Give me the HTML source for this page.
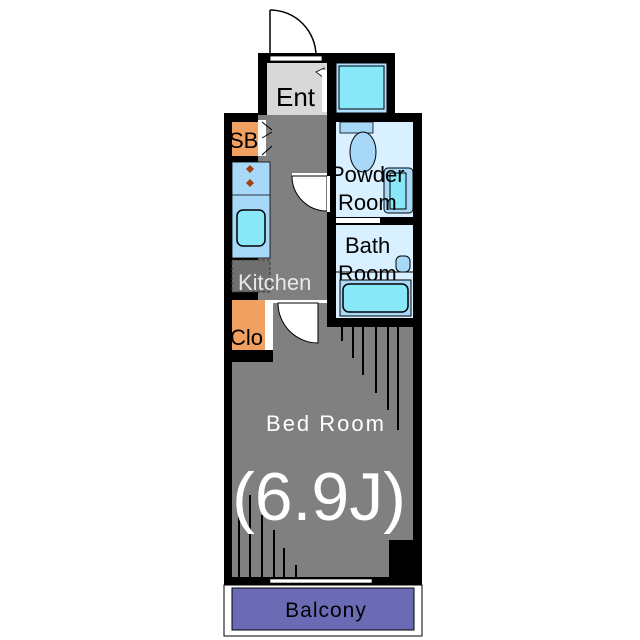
<!DOCTYPE html>
<html><head><meta charset="utf-8"><style>body{margin:0;background:#fff}svg{display:block}text{font-family:"Liberation Sans",sans-serif}</style></head><body>
<svg width="640" height="640" viewBox="0 0 640 640">
<rect width="640" height="640" fill="#fff"/>
<line x1="270" y1="10" x2="270" y2="56" stroke="#000" stroke-width="1.5"/>
<path d="M270 10 A46 46 0 0 1 316 56" fill="none" stroke="#000" stroke-width="1.5"/>
<rect x="258" y="53" width="137" height="70" fill="#000"/>
<rect x="224" y="113" width="198" height="472" fill="#000"/>
<rect x="270" y="56" width="52" height="5" fill="#fff" stroke="#000" stroke-width="0.8"/>
<rect x="267" y="63" width="60" height="52" fill="#d8d8d8"/>
<text x="276" y="106" font-size="26" fill="#000">Ent</text>
<path d="M316 72 L324 68 L324 78 Z" fill="#fff" stroke="#000" stroke-width="0.8"/>
<rect x="322" y="70" width="5" height="42" fill="#fff"/>
<rect x="336" y="63" width="51" height="50" fill="#aee0ff" stroke="#000" stroke-width="1"/>
<rect x="339" y="66" width="45" height="43" fill="#88e8f8" stroke="#000" stroke-width="1"/>
<rect x="258" y="115" width="69" height="190" fill="#808080"/>
<rect x="232" y="122" width="26" height="34" fill="#f0a060"/>
<text x="229" y="148" font-size="22" fill="#000">SB</text>
<rect x="258" y="120" width="8" height="36" fill="#fff"/>
<path d="M262 122 L272 130 M262 155 L272 146 M262 138 L272 132" stroke="#000" fill="none"/>
<rect x="232" y="162" width="38" height="96" fill="#a8d8f8" stroke="#000" stroke-width="0.8"/>
<line x1="232" y1="195" x2="270" y2="195" stroke="#000" stroke-width="0.8"/>
<path d="M250 165 l4 4 l-4 4 l-4 -4 z M250 179 l4 4 l-4 4 l-4 -4 z" fill="#a04010"/>
<rect x="237" y="210" width="28" height="36" rx="6" fill="#88e8f8" stroke="#000" stroke-width="1.5"/>
<rect x="232" y="260" width="38" height="32" fill="#707070" stroke="#333" stroke-dasharray="3,2"/>
<text x="238" y="290" font-size="22" fill="#e8e8e8">Kitchen</text>
<rect x="292" y="173" width="35" height="3" fill="#fff"/>
<path d="M292 176 L327 176 L327 211 A35 35 0 0 1 292 176 Z" fill="#fff" stroke="#000"/>
<rect x="327" y="176" width="3" height="36" fill="#fff"/>
<rect x="336" y="122" width="77" height="95" fill="#d8f0ff"/>
<rect x="340" y="122" width="33" height="11" fill="#a8d8f8" stroke="#000" stroke-width="0.8"/>
<ellipse cx="363" cy="152" rx="13" ry="20" fill="#a8d8f8" stroke="#000"/>
<rect x="384" y="168" width="29" height="45" rx="4" fill="#a8d8f8" stroke="#000"/>
<rect x="390" y="173" width="16" height="36" fill="#88e8f8" stroke="#000"/>
<text x="330" y="182" font-size="22" fill="#000">Powder</text>
<text x="338" y="210" font-size="22" fill="#000">Room</text>
<rect x="336" y="217" width="77" height="8" fill="#000"/>
<rect x="336" y="218" width="44" height="5" fill="#fff"/>
<rect x="336" y="225" width="77" height="93" fill="#d8f0ff"/>
<text x="345" y="253" font-size="22" fill="#000">Bath</text>
<text x="338" y="281" font-size="22" fill="#000">Room</text>
<line x1="336" y1="272" x2="413" y2="272" stroke="#000"/>
<rect x="396" y="256" width="14" height="16" rx="5" fill="#a8d8f8" stroke="#000"/>
<rect x="340" y="280" width="71" height="36" fill="#a8d8f8" stroke="#000"/>
<rect x="343" y="284" width="65" height="28" rx="6" fill="#88e8f8" stroke="#000" stroke-width="1.5"/>
<rect x="232" y="300" width="33" height="50" fill="#f0a060"/>
<text x="230" y="345" font-size="22" fill="#000">Clo</text>
<rect x="265" y="300" width="8" height="50" fill="#fff"/>
<path d="M274 340 L285 346 L274 350 Z" fill="#fff" stroke="#000" stroke-width="0.8"/>
<rect x="232" y="362" width="181" height="215" fill="#808080"/>
<rect x="273" y="300" width="54" height="62" fill="#808080"/>
<rect x="327" y="327" width="86" height="35" fill="#808080"/>
<rect x="273" y="300" width="54" height="3" fill="#fff"/>
<path d="M278 303 L318 303 L318 343 A40 40 0 0 1 278 303 Z" fill="#fff" stroke="#000"/>
<g stroke="#000" stroke-width="2">
<line x1="342" y1="327" x2="342" y2="341"/><line x1="353" y1="327" x2="353" y2="358"/>
<line x1="363" y1="327" x2="363" y2="375"/><line x1="376" y1="327" x2="376" y2="393"/>
<line x1="388" y1="327" x2="388" y2="410"/><line x1="398" y1="327" x2="398" y2="430"/>
<line x1="239" y1="490" x2="239" y2="577"/><line x1="250" y1="495" x2="250" y2="577"/>
<line x1="262" y1="515" x2="262" y2="577"/><line x1="274" y1="530" x2="274" y2="577"/>
<line x1="284" y1="548" x2="284" y2="577"/><line x1="296" y1="565" x2="296" y2="577"/>
</g>
<rect x="389" y="540" width="24" height="37" fill="#000"/>
<text x="326" y="431" font-size="22" letter-spacing="2" fill="#fff" text-anchor="middle">Bed Room</text>
<text x="319" y="520" font-size="68" fill="#fff" text-anchor="middle">(6.9J)</text>
<rect x="270" y="579" width="102" height="4" fill="#fff" stroke="#000" stroke-width="0.6"/>
<rect x="224" y="585" width="198" height="51" fill="#fff" stroke="#000" stroke-width="1"/>
<rect x="232" y="588" width="182" height="42" fill="#6b6bb5" stroke="#000"/>
<text x="326" y="617" font-size="21" letter-spacing="1" fill="#000" text-anchor="middle">Balcony</text>
</svg>
</body></html>
